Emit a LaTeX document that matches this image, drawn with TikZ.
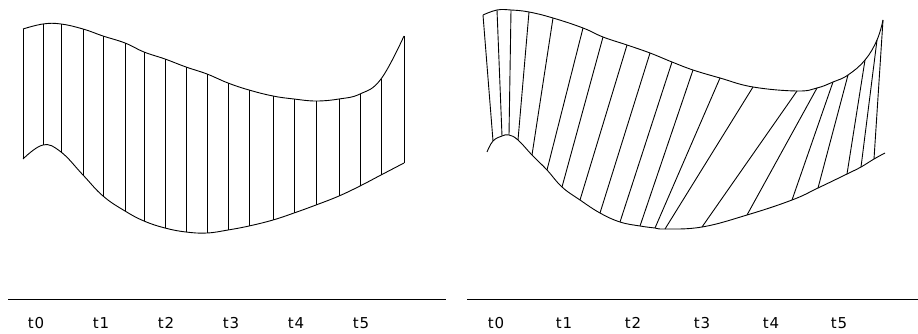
\documentclass[tikz,border=0pt]{standalone}
\usepackage{fontspec}
\setmainfont{DejaVu Sans}
\usetikzlibrary{positioning}

\tikzset{
  ruling/.style={line width=0.9pt},
  edge/.style={line width=0.9pt, smooth, tension=0.7},
  axis/.style={line width=1pt},
  tlabel/.style={font=\fontsize{15}{17}\selectfont\addfontfeature{LetterSpace=5}, inner sep=0pt},
}

\begin{document}
\begin{tikzpicture}[x=1pt, y=-1pt]
\useasboundingbox (0,0) rectangle (918,334);

% Left surface: rulings at equal steps
\foreach \x/\yt/\yb [count=\i from 0] in {23/29/159, 43/24/145, 61/24/152, 83/29/175, 103/36/196,
    125/43/211, 144/52/221, 165/59/228, 186/67/232, 207/74/233, 228/83/230, 249/90/226,
    273/96/220, 294/99/213, 316/101/205, 339/99/196, 360/94/186, 381/79/175, 404/36/163}{
  \coordinate (lt\i) at (\x,\yt);
  \coordinate (lb\i) at (\x,\yb);
  \draw[ruling] (lt\i) -- (lb\i);
}
\draw[edge] plot coordinates {(lt0) (lt1) (lt2) (lt3) (lt4) (lt5) (lt6) (lt7) (lt8) (lt9)
    (lt10) (lt11) (lt12) (lt13) (lt14) (lt15) (lt16) (lt17) (lt18)};
\draw[edge] plot coordinates {(lb0) (lb1) (lb2) (lb3) (lb4) (lb5) (lb6) (lb7) (lb8) (lb9)
    (lb10) (lb11) (lb12) (lb13) (lb14) (lb15) (lb16) (lb17) (lb18)};

% Right surface: warped rulings
\foreach \xt/\yt/\xb/\yb [count=\i from 0] in {483/15/493/141, 497/10/502/136, 511/10/509/135,
    529/12/518/140, 553/18/532/155, 583/28/547/170, 603/37/562/187, 627/45/580/200,
    650/53/600/213, 672/62/620/222, 693/70/640/226, 720/78/655/228, 753/87/665/229,
    797/91/702/227, 817/88/747/215, 833/82/792/200, 848/75/818/188, 865/60/847/174,
    877/40/861/167, 883/20/874/159}{
  \coordinate (rt\i) at (\xt,\yt);
  \coordinate (rb\i) at (\xb,\yb);
  \draw[ruling] (rt\i) -- (rb\i);
}
\coordinate (rbs) at (487,152);
\coordinate (rbe) at (885,153);
\draw[edge] plot coordinates {(rt0) (rt1) (rt2) (rt3) (rt4) (rt5) (rt6) (rt7) (rt8) (rt9)
    (rt10) (rt11) (rt12) (rt13) (rt14) (rt15) (rt16) (rt17) (rt18) (rt19)};
\draw[edge] plot coordinates {(rbs) (rb0) (rb1) (rb2) (rb3) (rb4) (rb5) (rb6) (rb7) (rb8) (rb9)
    (rb10) (rb11) (rb12) (rb13) (rb14) (rb15) (rb16) (rb17) (rb18) (rb19) (rbe)};

% Time axes
\draw[axis] (8,299) -- (446,299);
\draw[axis] (467,299) -- (918,299);
\foreach \x [count=\i from 0] in {36,101,166,231,296,361}
  \node[tlabel] (ta\i) at (\x,323) {t\i};
\foreach \x [count=\i from 0] in {496,564,633,702,771,839}
  \node[tlabel] (tb\i) at (\x,323) {t\i};
\end{tikzpicture}
\end{document}
